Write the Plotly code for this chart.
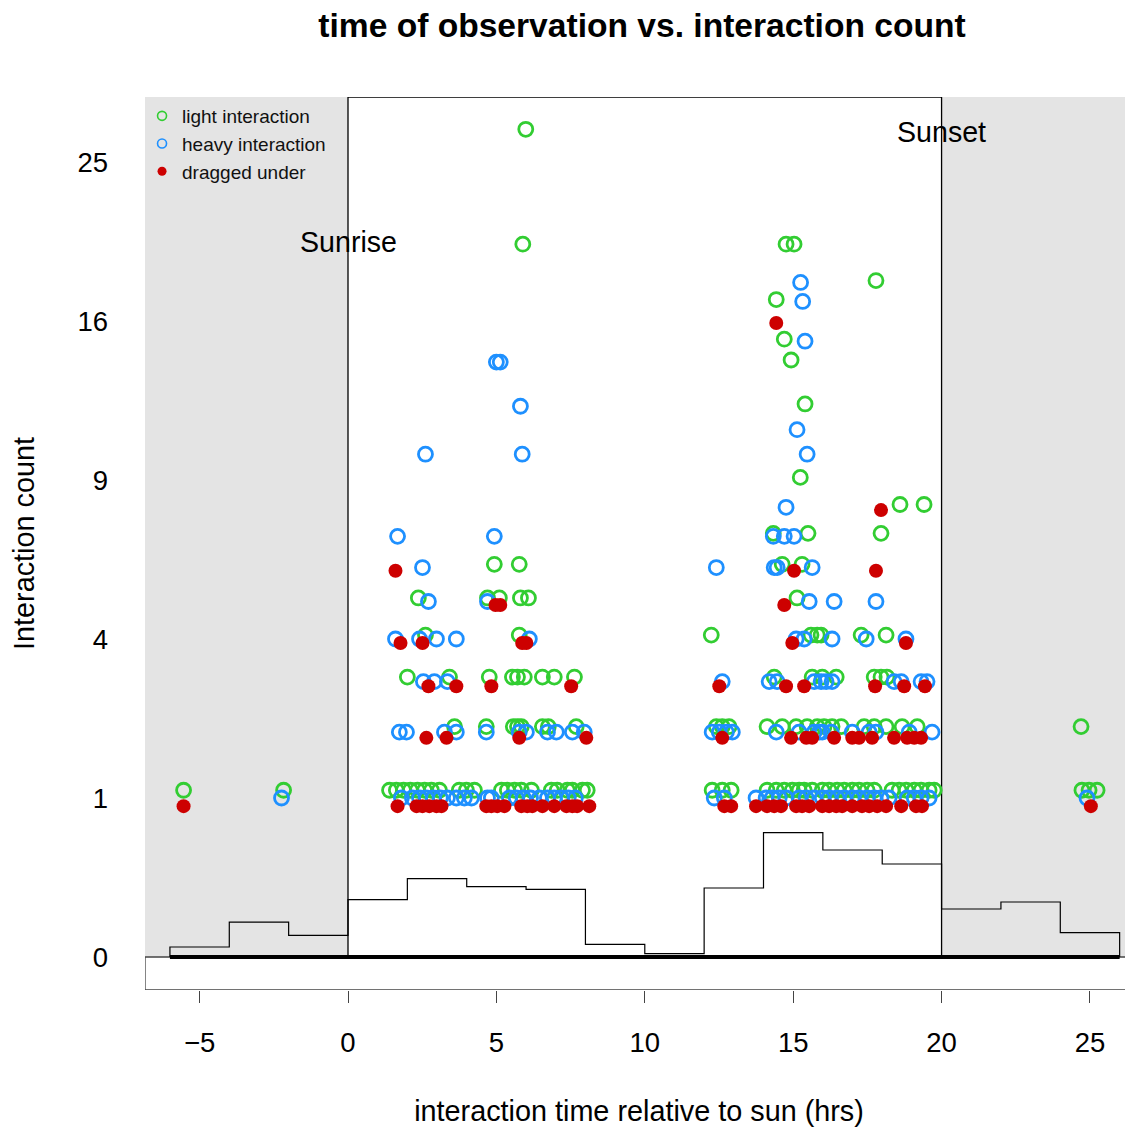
import numpy as np
import plotly.graph_objects as go

# ---------------- data (hours relative to sunrise, interaction count) ----------------
light_hours = [
    -5.54, -2.17, 1.40, 1.63, 1.87, 2.10, 2.34, 2.58, 2.81, 3.08, 3.75, 3.99, 4.26,
    5.17, 5.37, 5.61, 5.84, 6.18, 6.85, 7.05, 7.39, 7.56, 7.90, 8.06,
    12.27, 12.61, 12.91, 14.12, 14.43, 14.70, 14.97, 15.20, 15.37, 15.64,
    15.98, 16.21, 16.48, 16.72, 16.99, 17.22, 17.49, 17.73, 18.33, 18.57, 18.81,
    19.08, 19.31, 19.58, 19.75, 24.73, 24.97, 25.24,
    3.59, 4.66, 5.57, 5.71, 5.84, 6.55, 6.75, 7.69,
    12.41, 12.61, 12.84, 14.12, 14.63, 15.10, 15.47, 15.81, 16.04, 16.31, 16.62,
    17.39, 17.73, 18.13, 18.67, 19.18, 24.70,
    2.00, 3.42, 4.76, 5.54, 5.71, 5.94, 6.55, 6.95, 7.63,
    14.36, 15.64, 15.98, 16.45, 17.73, 17.96, 18.16,
    2.61, 5.77, 12.24, 15.60, 15.81, 15.94, 17.29, 18.13,
    2.37, 4.70, 5.10, 5.81, 6.08, 15.13,
    4.93, 5.77, 14.63, 15.30,
    14.33, 15.50, 17.96,
    18.60, 19.41,
    15.24,
    15.40,
    14.93,
    14.70,
    14.43,
    17.79,
    5.89, 14.76, 15.03,
    5.99,
]
light_count = (
    [1] * 52 + [2] * 25 + [3] * 16 + [4] * 8 + [5] * 6 + [6] * 4 + [7] * 3 + [8] * 2
    + [9] + [12] + [14] + [15] + [17] + [18] + [20] * 3 + [27]
)

heavy_hours = [
    -2.24, 1.80, 2.17, 2.41, 2.64, 2.88, 3.11, 3.35, 3.65, 3.92, 4.16,
    4.70, 4.83, 5.44, 5.67, 5.91, 6.15, 6.45, 6.72, 6.95, 7.19, 7.42, 7.66,
    12.34, 12.68, 13.75, 14.09, 14.29, 14.53, 14.76, 15.20, 15.44, 15.71, 15.98,
    16.21, 16.48, 16.72, 16.99, 17.22, 17.49, 17.73, 17.96, 18.23, 18.84, 19.08,
    19.31, 19.58, 24.90,
    1.73, 1.97, 3.25, 3.65, 4.66, 5.77, 6.01, 6.72, 7.02, 7.56, 7.96,
    12.27, 12.51, 12.75, 12.95, 14.43, 15.20, 15.71, 15.88, 15.98, 16.28, 16.99,
    17.56, 17.79, 18.91, 19.68,
    2.54, 2.91, 3.35, 12.61, 14.19, 14.46, 15.71, 15.94, 16.11, 16.31, 18.40,
    18.64, 19.31, 19.51,
    1.60, 2.41, 2.98, 3.65, 6.11, 15.10, 15.37, 16.31, 17.46, 18.80,
    2.71, 4.70, 15.54, 16.38, 17.79,
    2.51, 12.41, 14.36, 14.46, 15.64,
    1.67, 4.93, 14.33, 14.70, 15.03,
    14.76,
    2.61, 5.87, 15.47,
    15.13,
    5.81,
    5.00, 5.13,
    15.40,
    15.32,
    15.25,
]
heavy_count = (
    [1] * 48 + [2] * 26 + [3] * 14 + [4] * 10 + [5] * 5 + [6] * 5 + [7] * 5 + [8]
    + [10] * 3 + [11] + [12] + [14] * 2 + [15] + [17] + [18]
)

dragged_hours = [
    -5.54, 1.67, 2.31, 2.51, 2.74, 2.98, 3.15, 4.66, 4.83, 5.03, 5.27, 5.84, 6.04,
    6.21, 6.55, 6.95, 7.36, 7.56, 7.72, 8.13,
    12.68, 12.91, 13.75, 14.12, 14.36, 14.59, 15.10, 15.30, 15.54, 15.98, 16.21,
    16.45, 16.65, 16.99, 17.32, 17.56, 17.83, 18.13, 18.64, 19.14, 19.34, 25.03,
    2.64, 3.32, 5.77, 8.03, 12.61, 14.93, 15.44, 15.64, 16.38, 16.99, 17.22,
    17.66, 18.40, 18.84, 19.08, 19.31,
    2.71, 3.65, 4.83, 7.52, 12.51, 14.76, 15.37, 17.76, 18.74, 19.44,
    1.77, 2.51, 5.87, 6.01, 14.97, 18.80,
    4.97, 5.13, 14.70,
    1.60, 15.03, 17.79,
    17.96,
    14.43,
]
dragged_count = (
    [1] * 42 + [2] * 16 + [3] * 10 + [4] * 6 + [5] * 3 + [6] * 3 + [8] + [16]
)

# histogram of observation times (2-hour bins), heights in plot units
hist_edges = [-6, -4, -2, 0, 2, 4, 6, 8, 10, 12, 14, 16, 18, 20, 22, 24, 26]
hist_heights = [0.063, 0.220, 0.136, 0.361, 0.493, 0.443, 0.426, 0.080, 0.021,
                0.434, 0.782, 0.673, 0.585, 0.302, 0.346, 0.153]

y_tick_values = [0, 1, 4, 9, 16, 25]
x_tick_values = [-5, 0, 5, 10, 15, 20, 25]

# small vertical nudges (in counts) so the three categories do not overlap exactly
light_nudge, heavy_nudge, dragged_nudge = 0.1, 0.0, -0.1

GREEN = "#32CD32"
BLUE = "#1E90FF"
RED = "#CD0000"
FONT = "Liberation Sans, Arial, sans-serif"

XMIN, XMAX = -6.84, 26.45
YMIN, YMAX = -0.2075, 5.409

W, H = 1125, 1119


def sq(counts, nudge):
    return np.sqrt(np.asarray(counts, dtype=float) + nudge)


fig = go.Figure()

# histogram step outline
hx = [hist_edges[0]] + hist_edges[:-1] + [hist_edges[-1]]
hy = [0] + hist_heights + [0]
fig.add_trace(go.Scatter(x=hx, y=hy, mode="lines", line=dict(color="black", width=1.2, shape="hv"),
                         showlegend=False, hoverinfo="skip"))
# thick baseline
fig.add_trace(go.Scatter(x=[hist_edges[0], hist_edges[-1]], y=[0, 0], mode="lines",
                         line=dict(color="black", width=4), showlegend=False, hoverinfo="skip"))

fig.add_trace(go.Scatter(x=light_hours, y=sq(light_count, light_nudge), mode="markers",
                         marker=dict(symbol="circle-open", size=14, color=GREEN, line=dict(width=2.8, color=GREEN)),
                         showlegend=False))
fig.add_trace(go.Scatter(x=heavy_hours, y=sq(heavy_count, heavy_nudge), mode="markers",
                         marker=dict(symbol="circle-open", size=14, color=BLUE, line=dict(width=2.8, color=BLUE)),
                         showlegend=False))
fig.add_trace(go.Scatter(x=dragged_hours, y=sq(dragged_count, dragged_nudge), mode="markers",
                         marker=dict(symbol="circle", size=14, color=RED, line=dict(width=0)),
                         showlegend=False))

# legend entries
fig.add_trace(go.Scatter(x=[None], y=[None], mode="markers", name="light interaction",
                         marker=dict(symbol="circle-open", size=9, color=GREEN, line=dict(width=1.6, color=GREEN))))
fig.add_trace(go.Scatter(x=[None], y=[None], mode="markers", name="heavy interaction",
                         marker=dict(symbol="circle-open", size=9, color=BLUE, line=dict(width=1.6, color=BLUE))))
fig.add_trace(go.Scatter(x=[None], y=[None], mode="markers", name="dragged under",
                         marker=dict(symbol="circle", size=9, color=RED)))

shapes = [
    dict(type="rect", xref="x", yref="y", x0=XMIN, x1=0, y0=0, y1=YMAX, fillcolor="#E4E4E4",
         line=dict(width=0), layer="below"),
    dict(type="rect", xref="x", yref="y", x0=20, x1=XMAX + 1, y0=0, y1=YMAX, fillcolor="#E4E4E4",
         line=dict(width=0), layer="below"),
    dict(type="rect", xref="x", yref="y", x0=0, x1=20, y0=0, y1=YMAX, fillcolor="white",
         line=dict(width=1.3, color="black"), layer="below"),
    dict(type="rect", xref="x", yref="y", x0=XMIN, x1=XMAX + 1, y0=YMIN, y1=0, fillcolor="white",
         line=dict(width=1.3, color="#444444"), layer="below"),
]

annotations = [
    dict(x=0, y=4.5, xref="x", yref="y", text="Sunrise", showarrow=False,
         font=dict(size=28.6, color="black", family=FONT)),
    dict(x=20, y=5.19, xref="x", yref="y", text="Sunset", showarrow=False,
         font=dict(size=28.6, color="black", family=FONT)),
]

fig.update_layout(
    width=W, height=H,
    margin=dict(l=137, r=0, t=89, b=137),
    paper_bgcolor="white", plot_bgcolor="white",
    font=dict(family=FONT, color="black"),
    title=dict(text="<b>time of observation vs. interaction count</b>", x=634 / W, xanchor="center",
               y=1 - 17 / H, yanchor="middle", font=dict(size=33.6, family=FONT, color="black")),
    shapes=shapes, annotations=annotations,
    legend=dict(x=-0.003, y=1.0, xanchor="left", yanchor="top", bgcolor="rgba(0,0,0,0)",
                font=dict(size=19, family=FONT, color="#111"), tracegroupgap=0,
                itemwidth=30),
    showlegend=True,
)
fig.update_xaxes(range=[XMIN, XMAX], tickvals=x_tick_values, ticktext=[f"\u2212{abs(v)}" if v < 0 else str(v) for v in x_tick_values],
                 ticks="outside", ticklen=12, tickwidth=1.3, tickcolor="#444",
                 showgrid=False, zeroline=False, showline=False,
                 tickfont=dict(size=27.5, family=FONT, color="black"), ticklabelstandoff=16,
                 title=dict(text="interaction time relative to sun (hrs)", standoff=43,
                            font=dict(size=28.8, family=FONT, color="black")))
fig.update_yaxes(range=[YMIN, YMAX], tickvals=[np.sqrt(v) for v in y_tick_values],
                 ticktext=[str(v) for v in y_tick_values], ticks="",
                 showgrid=False, zeroline=False, showline=False,
                 tickfont=dict(size=27.5, family=FONT, color="black"), ticklabelstandoff=36,
                 title=dict(text="Interaction count", standoff=37,
                            font=dict(size=28.8, family=FONT, color="black")))

fig.write_html("out.html")
